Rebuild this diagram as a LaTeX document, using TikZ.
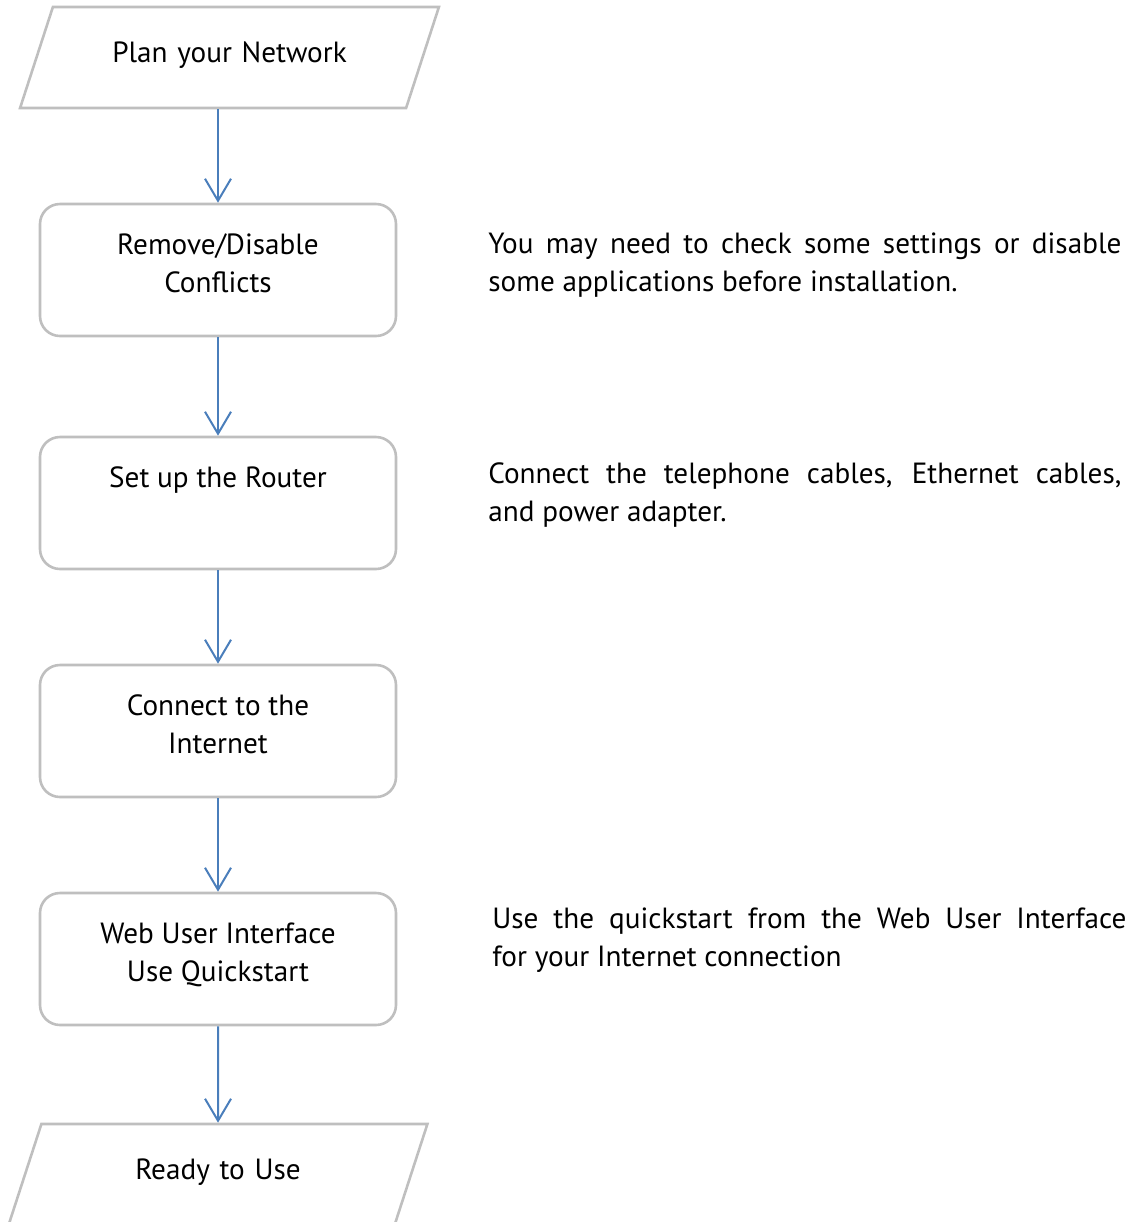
\documentclass[tikz,border=0pt]{standalone}
\usepackage{fontspec}
\setmainfont{PT Sans}
\usepackage{tikz}
\usetikzlibrary{shapes.geometric}
\usetikzlibrary{arrows.meta}

\definecolor{flowblue}{RGB}{74,126,187}
\definecolor{flowgray}{RGB}{191,191,191}

\newcommand{\boxtext}[1]{\parbox[c][66pt][t]{176pt}{\centering\vspace*{11.9pt}\strut#1\par}}

\tikzset{
	stepbox/.style={draw=flowgray, line width=1.3pt, rounded corners=10pt, minimum width=178pt, minimum height=66pt, inner sep=0pt},
	ioshape/.style={trapezium, trapezium left angle=72, trapezium right angle=108, draw=flowgray, line width=1.3pt, inner sep=0pt, text width=176.6pt, align=center, text height=27.6pt, text depth=22.9pt},
	flowarrow/.style={draw=flowblue, line width=1pt, -{Straight Barb[length=11pt, width=13pt]}},
	sidenote/.style={anchor=north west, inner sep=0pt, text width=316.5pt, align=justify},
}

\begin{document}
\begin{tikzpicture}[x=0.5pt, y=-0.5pt, every node/.style={font=\fontsize{14.6}{19}\selectfont}]
			\useasboundingbox (0,0) rectangle (1132,1222);
			% Steps:
			\node[ioshape] (plan) at (229.5,57.5) {Plan your Network};
			\node[stepbox] (remove) at (218,270) {\boxtext{Remove/Disable\\Conflicts}};
			\node[stepbox] (router) at (218,503) {\boxtext{Set up the Router}};
			\node[stepbox] (connect) at (218,731) {\boxtext{Connect to the\\Internet}};
			\node[stepbox] (webui) at (218,959) {\boxtext{Web User Interface\\Use Quickstart}};
			\node[ioshape] (ready) at (218,1174.5) {Ready to Use};
			% Arrows:
			\draw[flowarrow] (remove.north |- plan.south) -- (remove.north);
			\draw[flowarrow] (remove) -- (router);
			\draw[flowarrow] (router) -- (connect);
			\draw[flowarrow] (connect) -- (webui);
			\draw[flowarrow] (webui) -- (ready);
			% Notes:
			\node[sidenote] (noteremove) at (488,226.4) {\strut You may need to check some settings or disable\linebreak some applications before installation.};
			\node[sidenote] (noterouter) at (488,456.4) {\strut Connect the telephone cables, Ethernet cables,\linebreak and power adapter.};
			\node[sidenote, text width=317pt] (notewebui) at (492,901.4) {\strut Use the quickstart from the Web User Interface\linebreak for your Internet connection};
		\end{tikzpicture}
\end{document}
